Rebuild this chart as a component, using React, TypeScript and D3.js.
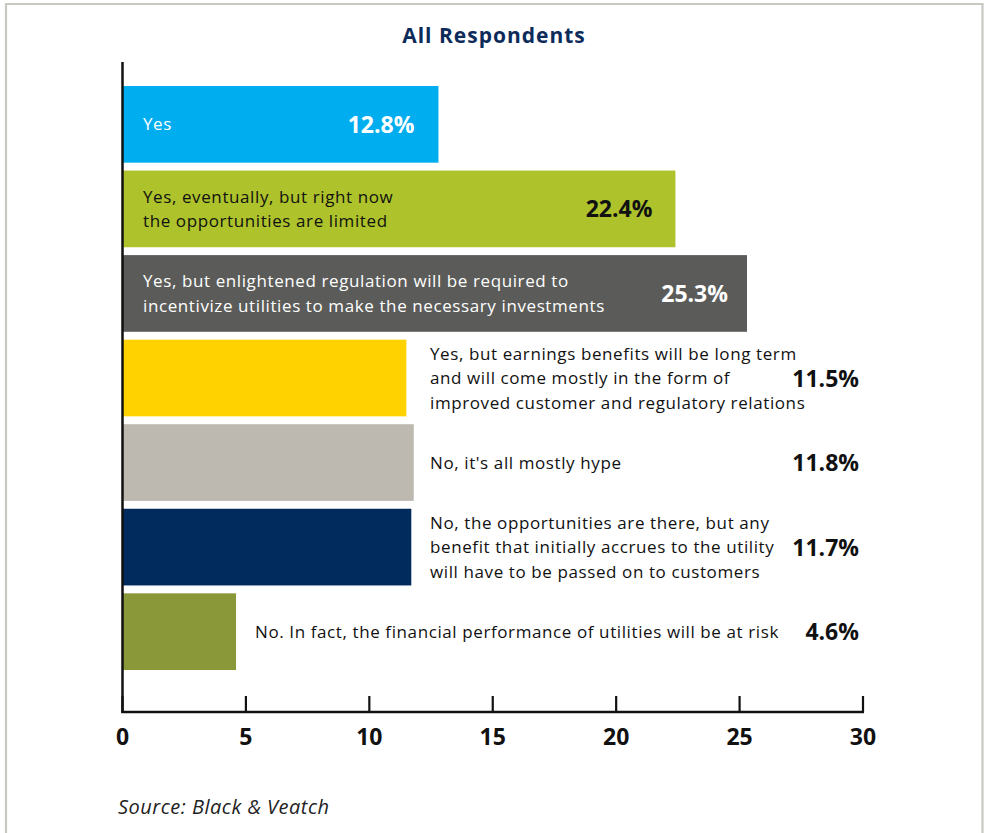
import React from "react";
import * as d3 from "d3";

const categories = [
  "Yes",
  "Yes, eventually, but right now the opportunities are limited",
  "Yes, but enlightened regulation will be required to incentivize utilities to make the necessary investments",
  "Yes, but earnings benefits will be long term and will come mostly in the form of improved customer and regulatory relations",
  "No, it's all mostly hype",
  "No, the opportunities are there, but any benefit that initially accrues to the utility will have to be passed on to customers",
  "No. In fact, the financial performance of utilities will be at risk",
];
const labelLines = [
  ["Yes"],
  ["Yes, eventually, but right now", "the opportunities are limited"],
  ["Yes, but enlightened regulation will be required to", "incentivize utilities to make the necessary investments"],
  ["Yes, but earnings benefits will be long term", "and will come mostly in the form of", "improved customer and regulatory relations"],
  ["No, it's all mostly hype"],
  ["No, the opportunities are there, but any", "benefit that initially accrues to the utility", "will have to be passed on to customers"],
  ["No. In fact, the financial performance of utilities will be at risk"],
];
const values = [12.8, 22.4, 25.3, 11.5, 11.8, 11.7, 4.6];
const barColors = ["#00aeef", "#adc22b", "#5b5c59", "#ffd200", "#bdb9b1", "#002b5c", "#8a983a"];
const xTicks = [0, 5, 10, 15, 20, 25, 30];
const title = "All Respondents";
const source = "Source: Black & Veatch";

// layout / style (not data)
const inside = [true, true, true, false, false, false, false];
const pctInset = [24, 23, 19, 0, 0, 0, 0];
const textColors = ["#ffffff", "#111111", "#ffffff", "#111111", "#111111", "#111111", "#111111"];

const FONT = "'Open Sans', 'Noto Sans', sans-serif";

export default function App() {
  const W = 984, H = 833;
  const x = d3.scaleLinear().domain([0, 30]).range([122.5, 863]);
  const y = d3.scaleBand<string>().domain(categories).range([86, 670]).paddingInner(0.093).paddingOuter(0);
  const axisY = 712;
  const lineGap = 24.5;
  const pctRight = 859;
  const outsideColX = 430;

  return (
    <svg width={W} height={H} style={{ position: "absolute", left: 0, top: 0, background: "#fff" }} fontFamily={FONT}>
      <path d={`M6,${H + 5} V4 H982.5 V${H + 5}`} fill="none" stroke="#c9c7c1" strokeWidth={2.2} />
      <text x={494} y={43} textAnchor="middle" fontSize={21} fontWeight={700} letterSpacing={1} fill="#0c2b5a">{title}</text>

      {categories.map((c, i) => {
        const y0 = y(c)!;
        const bw = y.bandwidth();
        const cy = y0 + bw / 2;
        const xEnd = x(values[i]);
        const n = labelLines[i].length;
        const tx = inside[i] ? 143 : (i === 6 ? xEnd + 19 : outsideColX);
        const pctX = inside[i] ? xEnd - pctInset[i] : pctRight;
        return (
          <g key={c}>
            <rect x={x(0)} y={y0} width={xEnd - x(0)} height={bw} fill={barColors[i]} />
            {labelLines[i].map((ln, j) => {
              const ly = cy + (j - (n - 1) / 2) * lineGap + 6;
              return (
                <text key={j} x={tx} y={ly} fontSize={17} letterSpacing={0.6} fill={textColors[i]}>{ln}</text>
              );
            })}
            <text x={pctX} y={cy + 8.5} textAnchor="end" fontSize={23} fontWeight={700} fill={textColors[i]}>
              {values[i].toFixed(1) + "%"}
            </text>
          </g>
        );
      })}

      <line x1={x(0)} x2={x(0)} y1={62} y2={axisY + 1} stroke="#111" strokeWidth={2.5} />
      <line x1={x(0) - 1.2} x2={x(30) + 1} y1={axisY} y2={axisY} stroke="#111" strokeWidth={2.5} />
      {xTicks.map((t) => (
        <g key={t}>
          <line x1={x(t)} x2={x(t)} y1={696} y2={axisY} stroke="#111" strokeWidth={2.2} />
          <text x={x(t)} y={744.5} textAnchor="middle" fontSize={23} fontWeight={700} fill="#111">{t}</text>
        </g>
      ))}

      <text x={118} y={814} fontSize={20} fontStyle="italic" letterSpacing={0.5} fill="#222">{source}</text>
    </svg>
  );
}
